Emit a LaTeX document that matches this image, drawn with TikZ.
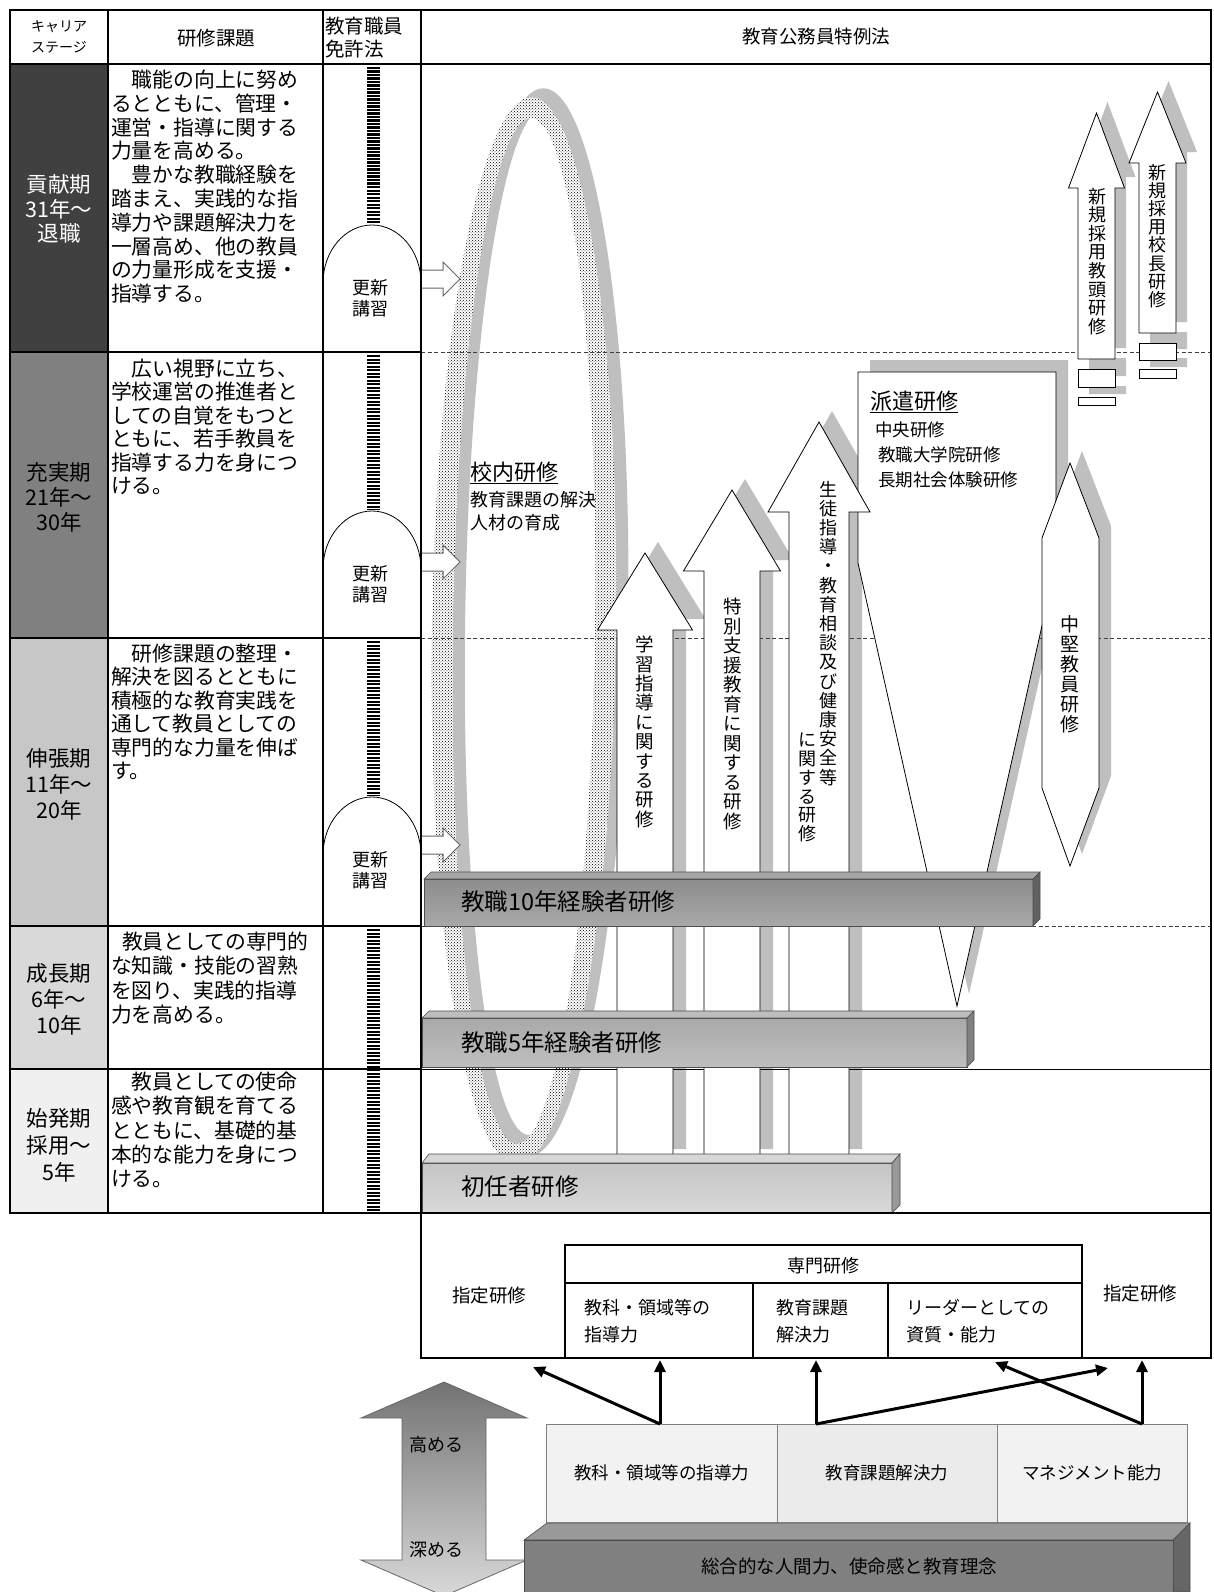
\documentclass[tikz,border=0pt]{standalone}
\usepackage{fontspec}
\setmainfont{Noto Sans CJK JP}
\usetikzlibrary{patterns,arrows.meta}
\makeatletter
\def\myvt#1{\myvt@a#1\@nil}
\def\myvt@a#1#2\@nil{#1\ifx\relax#2\relax\expandafter\@gobble\else\expandafter\@firstofone\fi{\\\myvt@a#2\@nil}}
\makeatother
\newcommand\fsz[2]{\fontsize{#1}{#2}\selectfont}
\newcommand\uarr[7]{\path[#7] (#1,#2) -- ({#1+#3},#5) -- ({#1+#4},#5) -- ({#1+#4},#6) -- ({#1-#4},#6) -- ({#1-#4},#5) -- ({#1-#3},#5) -- cycle;}
\newcommand\mkarch[2]{\path[shp] (323,#2) -- (323,{#1+58}) arc[start angle=180,end angle=0,x radius=49pt,y radius=58pt] -- (421,#2) -- cycle;}
\newcommand\sarr[1]{\path[fill=white,draw=black!60,line width=1pt] (421,{#1-9}) -- (443,{#1-9}) -- (443,{#1-17}) -- (460,#1) -- (443,{#1+17}) -- (443,{#1+9}) -- (421,{#1+9});}
\begin{document}
\begin{tikzpicture}[x=1pt,y=-1pt,
  every node/.style={inner sep=0pt,outer sep=0pt},
  shd/.style={fill=black!25,draw=none},
  shp/.style={fill=white,draw=black,line width=0.8pt},
  dsh/.style={draw=black!75,line width=0.8pt,dash pattern=on 4pt off 2.5pt},
  ladder/.style={draw=black,line width=13pt,dash pattern=on 2.2pt off 1.3pt},
  vtxt/.style={anchor=north,align=center},
  conn/.style={line width=3pt,-{Triangle[length=12pt,width=11pt]}},
  tb/.style={line width=2pt,black},
  bev/.style={draw=black!70,line width=0.6pt}]
\fill[white] (0,0) rectangle (1214,1592);
\useasboundingbox (0,0) rectangle (1214,1592);

% career stage fills
\fill[black!75] (10,64) rectangle (108,352);
\fill[black!50] (10,352) rectangle (108,638);
\fill[black!22] (10,638) rectangle (108,926);
\fill[black!15] (10,926) rectangle (108,1069);
\fill[black!6] (10,1069) rectangle (108,1213);

% ellipse (school training) shadow and dotted ring
\begin{scope}[rotate around={-0.8:(524,631)}]
\fill[black!25,even odd rule,shift={(12,-9)}] (524,631) ellipse [x radius=92,y radius=534] (524,631) ellipse [x radius=71,y radius=513];
\fill[white,even odd rule] (524,631) ellipse [x radius=92,y radius=534] (524,631) ellipse [x radius=71,y radius=513];
\fill[pattern=crosshatch dots,pattern color=black,even odd rule] (524,631) ellipse [x radius=92,y radius=534] (524,631) ellipse [x radius=71,y radius=513];
\end{scope}

% shadows
\path[shd,shift={(12,-12)}] (858,372) -- (1056,372) -- (1056,563) -- (957,1006) -- (858,563) -- cycle;
\uarr{645}{553}{47.5}{28}{630}{1160}{shd,shift={(13,-11)}}
\uarr{732}{490}{48.5}{28}{571}{1160}{shd,shift={(13,-11)}}
\uarr{819}{422}{51}{30}{512}{1160}{shd,shift={(13,-11)}}
\path[shd,shift={(12,-12)}] (1070,463) -- (1099,538) -- (1099,788) -- (1070,866) -- (1042,788) -- (1042,538) -- cycle;
\uarr{1096.5}{113}{28}{18.5}{188}{359}{shd,shift={(11,-11)}}
\uarr{1157.5}{92}{28.5}{18.5}{163}{333}{shd,shift={(11,-11)}}
\path[shd,shift={(11,-11)}] (1078,369) rectangle (1115,387) (1078,397) rectangle (1115,405);
\path[shd,shift={(11,-11)}] (1139,343) rectangle (1176,360) (1139,369) rectangle (1176,378);

% stage separators in the right column
\draw[dsh] (421,352) -- (1211,352);
\draw[dsh] (421,638) -- (1211,638);
\draw[dsh] (421,926) -- (1211,926);
\draw[black,line width=1pt] (421,1069) -- (1211,1069);

% shapes
\path[shp] (858,372) -- (1056,372) -- (1056,563) -- (957,1006) -- (858,563) -- cycle;
\uarr{645}{553}{47.5}{28}{630}{1160}{shp}
\uarr{732}{490}{48.5}{28}{571}{1160}{shp}
\uarr{819}{422}{51}{30}{512}{1160}{shp}
\path[shp] (1070,463) -- (1099,538) -- (1099,788) -- (1070,866) -- (1042,788) -- (1042,538) -- cycle;
\uarr{1096.5}{113}{28}{18.5}{188}{359}{shp}
\uarr{1157.5}{92}{28.5}{18.5}{163}{333}{shp}
\path[shp] (1078,369) rectangle (1115,387) (1078,397) rectangle (1115,405);
\path[shp] (1139,343) rectangle (1176,360) (1139,369) rectangle (1176,378);

% texts in right column
\node[anchor=west,font=\fsz{22}{22}] (kn) at (470,473) {\underline{校内研修}};
\node[anchor=north west,align=left,font=\fsz{18}{23}] (kn2) at (470,491) {教育課題の解決\\人材の育成};
\node[anchor=west,font=\fsz{22}{22}] (hk) at (870,402) {\underline{派遣研修}};
\node[anchor=west,font=\fsz{17.5}{17.5}] (hk1) at (875,430) {中央研修};
\node[anchor=west,font=\fsz{17.5}{17.5}] (hk2) at (878,455) {教職大学院研修};
\node[anchor=west,font=\fsz{17.5}{17.5}] (hk3) at (878,480) {長期社会体験研修};
\node[vtxt,font=\fsz{18.5}{19.4}] (ta) at (645,636) {\myvt{学習指導に関する研修}};
\node[vtxt,font=\fsz{18.5}{19.5}] (tbt) at (733,598) {\myvt{特別支援教育に関する研修}};
\node[vtxt,font=\fsz{18}{19.2}] (tc1) at (828,481) {\myvt{生徒指導・教育相談及び健康安全等}};
\node[vtxt,font=\fsz{18}{18.8}] (tc2) at (807,733) {\myvt{に関する研修}};
\node[vtxt,font=\fsz{19}{20}] (tg) at (1070,616) {\myvt{中堅教員研修}};
\node[vtxt,font=\fsz{18}{18.6}] (td) at (1097,188) {\myvt{新規採用教頭研修}};
\node[vtxt,font=\fsz{18}{18.2}] (te) at (1157,164) {\myvt{新規採用校長研修}};

% 3D bars
\shadedraw[top color=black!45,bottom color=black!34,bev] (424,879) rectangle (1033,926);
\filldraw[fill=black!35,bev] (424,879) -- (431,872) -- (1040,872) -- (1033,879) -- cycle;
\filldraw[fill=black!62,bev] (1033,879) -- (1040,872) -- (1040,919) -- (1033,926) -- cycle;
\node[anchor=west,font=\fsz{23.5}{23.5}] (b10) at (461,902) {教職10年経験者研修};
\shadedraw[top color=black!34,bottom color=black!25,bev] (422,1018) rectangle (967,1067);
\filldraw[fill=black!26,bev] (422,1018) -- (429,1011) -- (974,1011) -- (967,1018) -- cycle;
\filldraw[fill=black!50,bev] (967,1018) -- (974,1011) -- (974,1060) -- (967,1067) -- cycle;
\node[anchor=west,font=\fsz{23.5}{23.5}] (b5) at (461,1043) {教職5年経験者研修};
\shadedraw[top color=black!23,bottom color=black!15,bev] (422,1163) rectangle (892,1213);
\filldraw[fill=black!16,bev] (422,1163) -- (429,1154) -- (900,1154) -- (892,1163) -- cycle;
\filldraw[fill=black!40,bev] (892,1163) -- (900,1154) -- (900,1205) -- (892,1213) -- cycle;
\node[anchor=west,font=\fsz{23.5}{23.5}] (b1) at (461,1187) {初任者研修};

% licence column: ladders, arches, small arrows
\draw[ladder] (373.5,67) -- (373.5,224);
\draw[ladder] (373.5,355) -- (373.5,510);
\draw[ladder] (373.5,641) -- (373.5,796);
\draw[ladder] (373.5,929) -- (373.5,1211);
\mkarch{225}{352}
\mkarch{511}{638}
\mkarch{797}{926}
\node[align=left,font=\fsz{18}{21}] (k1t) at (370,298) {更新\\講習};
\node[align=left,font=\fsz{18}{21}] (k2t) at (370,584) {更新\\講習};
\node[align=left,font=\fsz{18}{21}] (k3t) at (370,870) {更新\\講習};
\sarr{279}
\sarr{562}
\sarr{845}

% table lines
\draw[line width=2.5pt] (10,10) rectangle (1211,1213);
\draw[tb] (10,64) -- (1211,64);
\draw[tb] (108,10) -- (108,1213);
\draw[tb] (323,10) -- (323,1213);
\draw[tb] (421,10) -- (421,1213);
\draw[tb] (10,352) -- (421,352);
\draw[tb] (10,638) -- (421,638);
\draw[tb] (10,926) -- (421,926);
\draw[tb] (10,1069) -- (421,1069);

% header
\node[align=center,font=\fsz{14}{21}] (h1) at (59,37) {キャリア\\ステージ};
\node[font=\fsz{19.5}{19.5}] (h2) at (216,38) {研修課題};
\node[anchor=north west,align=left,font=\fsz{19.5}{23}] (h3) at (325,17) {教育職員\\免許法};
\node[font=\fsz{18.5}{18.5}] (h4) at (816,37) {教育公務員特例法};

% career stages
\node[align=center,font=\fsz{21.5}{24.5},text=white] (c1) at (59,209) {貢献期\\31年～\\退職};
\node[align=center,font=\fsz{21.5}{25}] (c2) at (59,497) {充実期\\21年～\\30年};
\node[align=center,font=\fsz{21.5}{26}] (c3) at (59,784) {伸張期\\11年～\\20年};
\node[align=center,font=\fsz{21.5}{26}] (c4) at (59,999) {成長期\\6年～\\10年};
\node[align=center,font=\fsz{21.5}{27}] (c5) at (59,1145) {始発期\\採用～\\5年};

% tasks
\node[anchor=north west,align=left,font=\fsz{20.8}{23.8}] (p1) at (111,70) {　職能の向上に努め\\るとともに、管理・\\運営・指導に関する\\力量を高める。\\　豊かな教職経験を\\踏まえ、実践的な指\\導力や課題解決力を\\一層高め、他の教員\\の力量形成を支援・\\指導する。};
\node[anchor=north west,align=left,font=\fsz{20.8}{23.4}] (p2) at (111,359) {　広い視野に立ち、\\学校運営の推進者と\\しての自覚をもつと\\ともに、若手教員を\\指導する力を身につ\\ける。};
\node[anchor=north west,align=left,font=\fsz{20.8}{23.4}] (p3) at (111,644) {　研修課題の整理・\\解決を図るとともに\\積極的な教育実践を\\通して教員としての\\専門的な力量を伸ば\\す。};
\node[anchor=north west,align=left,font=\fsz{20.8}{24.3}] (p4) at (111,932) {\hspace*{11pt}教員としての専門的\\な知識・技能の習熟\\を図り、実践的指導\\力を高める。};
\node[anchor=north west,align=left,font=\fsz{20.8}{24.3}] (p5) at (111,1072) {　教員としての使命\\感や教育観を育てる\\とともに、基礎的基\\本的な能力を身につ\\ける。};

% lower box
\draw[line width=1.5pt] (421,1213) rectangle (1211,1358);
\draw[line width=1.5pt] (565,1245) rectangle (1082,1358);
\draw[line width=1.5pt] (565,1283) -- (1082,1283);
\draw[line width=1.5pt] (753,1283) -- (753,1358);
\draw[line width=1.5pt] (888,1283) -- (888,1358);
\node[anchor=west,font=\fsz{18.5}{18.5}] (s1t) at (452,1295) {指定研修};
\node[anchor=west,font=\fsz{18.5}{18.5}] (s2t) at (1103,1293) {指定研修};
\node[font=\fsz{18}{18}] (sm) at (823,1266) {専門研修};
\node[anchor=north west,align=left,font=\fsz{18}{27}] (sm1) at (584,1299) {教科・領域等の\\指導力};
\node[anchor=north west,align=left,font=\fsz{18}{27}] (sm2) at (776,1299) {教育課題\\解決力};
\node[anchor=north west,align=left,font=\fsz{18}{27}] (sm3) at (906,1299) {リーダーとしての\\資質・能力};

% double arrow
\shadedraw[top color=black!55,bottom color=black!15,draw=black!60,line width=0.8pt] (444,1382) -- (527,1418) -- (486,1418) -- (486,1560) -- (527,1560) -- (444,1596) -- (361,1560) -- (402,1560) -- (402,1418) -- (361,1418) -- cycle;
\node[anchor=west,font=\fsz{18}{18}] (up) at (409,1445) {高める};
\node[anchor=west,font=\fsz{18}{18}] (dn) at (409,1550) {深める};

% base bar
\filldraw[fill=black!40,bev] (524,1540) -- (547,1523) -- (1190,1523) -- (1173,1540) -- cycle;
\filldraw[fill=black!60,bev] (1173,1540) -- (1190,1523) -- (1190,1592) -- (1173,1592) -- cycle;
\filldraw[fill=black!50,bev] (524,1540) rectangle (1173,1593);
\node[font=\fsz{18.5}{18.5}] (base) at (849,1566) {総合的な人間力、使命感と教育理念};

% competence blocks
\node[draw=black!50,fill=black!5,minimum width=231pt,minimum height=98pt,anchor=north west,font=\fsz{17.5}{17.5}] (k1) at (546,1424) {教科・領域等の指導力};
\node[draw=black!50,fill=black!8,minimum width=220pt,minimum height=98pt,anchor=north west,font=\fsz{17.5}{17.5}] (k2) at (777,1424) {教育課題解決力};
\node[draw=black!50,fill=black!5,minimum width=190pt,minimum height=98pt,anchor=north west,font=\fsz{17.5}{17.5}] (k3) at (997,1424) {マネジメント能力};

% connectors
\coordinate (o1) at (660,1424);
\coordinate (o2) at (816,1424);
\coordinate (o3) at (1142,1424);
\coordinate (e1) at (533,1367);
\coordinate (e2) at (660,1360);
\coordinate (e3) at (816,1360);
\coordinate (e4) at (1108,1368);
\coordinate (e5) at (1142,1360);
\coordinate (e6) at (995,1362);
\draw[conn] (o1) -- (e1);
\draw[conn] (o1) -- (e2);
\draw[conn] (o2) -- (e3);
\draw[conn] (o2) -- (e4);
\draw[conn] (o3) -- (e5);
\draw[conn] (o3) -- (e6);
\end{tikzpicture}
\end{document}
